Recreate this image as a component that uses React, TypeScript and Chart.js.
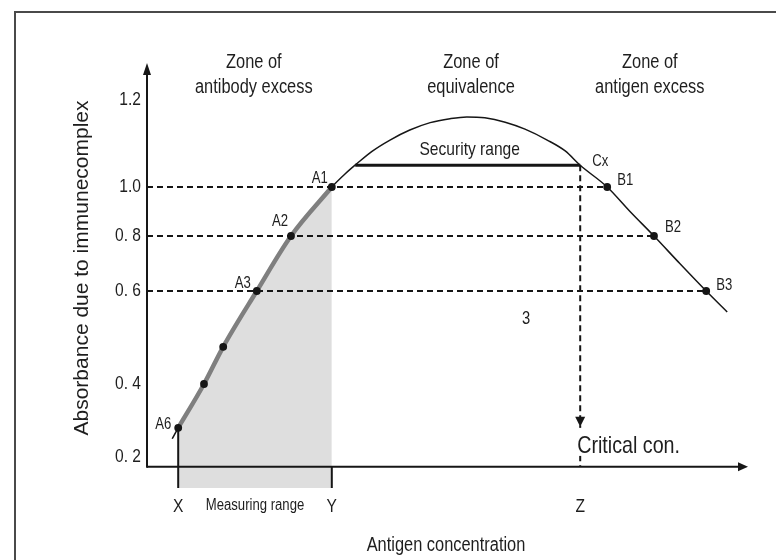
import React, { useEffect, useRef } from "react";
import { Chart, registerables, LinearScale } from "chart.js";

// ---------------- data ----------------
// y axis (absorbance) tick values and their printed labels
const yTickValues = [0.2, 0.4, 0.6, 0.8, 1.0, 1.2];
const yTickLabels = ["0. 2", "0. 4", "0. 6", "0. 8", "1.0", "1.2"];

// Calibration curve: antigen concentration (arbitrary units) vs absorbance
const curveX = [0.42, 0.52, 0.95, 1.27, 1.83, 2.4, 3.08, 3.3, 3.5, 3.75, 4.05, 4.38, 4.72, 5.05, 5.33, 5.63, 5.97, 6.3, 6.67, 6.97, 7.22, 7.67, 8.05, 8.45, 8.88, 9.32, 9.67];
const curveY = [0.25, 0.28, 0.4, 0.48, 0.6, 0.8, 1.0, 1.03, 1.054, 1.082, 1.108, 1.131, 1.148, 1.157, 1.161, 1.159, 1.149, 1.133, 1.108, 1.083, 1.05, 1.0, 0.9, 0.8, 0.7, 0.6, 0.555];

// Marked measuring points
const markNames = ["A6", "", "", "A3", "A2", "A1", "B1", "B2", "B3"];
const markX = [0.52, 0.95, 1.27, 1.83, 2.4, 3.08, 7.67, 8.45, 9.32];
const markY = [0.28, 0.4, 0.48, 0.6, 0.8, 1.0, 1.0, 0.8, 0.6];

// Measuring range X..Y, critical concentration Z, security range
const measureRange = [0.52, 3.08];
const criticalX = 7.22;
const securityX = [3.47, 7.22];
const securityY = 1.05;
const yAxisOrigin = 0.173; // absorbance where the concentration axis crosses

const zoneTitles = [
  ["Zone of", "antibody excess"],
  ["Zone of", "equivalence"],
  ["Zone of", "antigen excess"],
];
const zoneCenters = [1.78, 5.4, 8.38];
const regionNote = { text: "3", x: 6.32, y: 0.54 };

// ---------------- scale config (as drawn: tick spacing is uneven) ----------------
const yStopFractions = [0.0729, 0.2447, 0.4635, 0.5929, 0.7082, 0.9129];

function valueToFraction(v: number): number {
  const s = yTickValues, f = yStopFractions;
  let i = 0;
  if (v <= s[0]) i = 0;
  else if (v >= s[s.length - 1]) i = s.length - 2;
  else { while (i < s.length - 2 && v > s[i + 1]) i++; }
  return f[i] + ((v - s[i]) / (s[i + 1] - s[i])) * (f[i + 1] - f[i]);
}
function fractionToValue(d: number): number {
  const s = yTickValues, f = yStopFractions;
  let i = 0;
  if (d <= f[0]) i = 0;
  else if (d >= f[f.length - 1]) i = f.length - 2;
  else { while (i < f.length - 2 && d > f[i + 1]) i++; }
  return s[i] + ((d - f[i]) / (f[i + 1] - f[i])) * (s[i + 1] - s[i]);
}

class PiecewiseScale extends LinearScale {
  static id = "piecewise";
  static defaults = {};
  getPixelForValue(value: any) {
    if (value === null || value === undefined || isNaN(value)) return NaN;
    return this.getPixelForDecimal(valueToFraction(+value));
  }
  getValueForPixel(pixel: number) {
    return fractionToValue(this.getDecimalForPixel(pixel));
  }
}

Chart.register(...registerables, PiecewiseScale as any);

const SANS = "'Liberation Sans', Arial, sans-serif";
const INK = "#161616";
const NARROW_FACTOR = 0.82;

// label offsets (style)
const markLabelOffsets: [number, number][] = [
  [-15, -3], [0, 0], [0, 0], [-14, -7], [-11, -14], [-12, -8], [18, -6], [19, -8], [18, -5],
];

const diagramPlugin = {
  id: "diagram",
  afterDraw(chart: any) {
    const { ctx, chartArea, scales } = chart;
    const xs = scales.x, ys = scales.y;
    const axisY = ys.getPixelForValue(yAxisOrigin);
    const left = chartArea.left;
    ctx.save();

    const text = (
      s: string, x: number, y: number, size: number,
      align: CanvasTextAlign = "center", baseline: CanvasTextBaseline = "alphabetic",
      sx = NARROW_FACTOR,
    ) => {
      ctx.save();
      ctx.translate(x, y);
      ctx.scale(sx, 1);
      ctx.font = `${size}px ${SANS}`;
      ctx.textAlign = align;
      ctx.textBaseline = baseline;
      ctx.fillStyle = "#1e1e1e";
      ctx.fillText(s, 0, 0);
      ctx.restore();
    };

    // frame
    ctx.strokeStyle = "#4a4a4a";
    ctx.lineWidth = 2;
    ctx.beginPath();
    ctx.moveTo(15, chart.height);
    ctx.lineTo(15, 12);
    ctx.lineTo(chart.width, 12);
    ctx.stroke();

    // axes
    ctx.strokeStyle = INK;
    ctx.fillStyle = INK;
    ctx.lineWidth = 2;
    ctx.beginPath();
    ctx.moveTo(left, axisY + 1);
    ctx.lineTo(left, chartArea.top + 8);
    ctx.stroke();
    ctx.beginPath();
    ctx.moveTo(left, chartArea.top);
    ctx.lineTo(left - 4, chartArea.top + 12);
    ctx.lineTo(left + 4, chartArea.top + 12);
    ctx.closePath();
    ctx.fill();

    const tipX = chartArea.right + 1;
    ctx.beginPath();
    ctx.moveTo(left, axisY);
    ctx.lineTo(tipX - 8, axisY);
    ctx.stroke();
    ctx.beginPath();
    ctx.moveTo(tipX, axisY);
    ctx.lineTo(tipX - 10, axisY - 4.5);
    ctx.lineTo(tipX - 10, axisY + 4.5);
    ctx.closePath();
    ctx.fill();

    // y tick labels
    yTickValues.forEach((v, i) => {
      text(yTickLabels[i], left - 6, ys.getPixelForValue(v), 19, "right", "middle");
    });

    // measuring range boundaries
    const pX = xs.getPixelForValue(measureRange[0]);
    const pY = xs.getPixelForValue(measureRange[1]);
    ctx.strokeStyle = INK;
    ctx.beginPath();
    ctx.moveTo(pX, ys.getPixelForValue(markY[0]));
    ctx.lineTo(pX, chartArea.bottom);
    ctx.moveTo(pY, axisY);
    ctx.lineTo(pY, chartArea.bottom);
    ctx.stroke();

    // critical concentration arrow + label
    const pZ = xs.getPixelForValue(criticalX);
    ctx.fillStyle = "#ffffff";
    ctx.fillRect(pZ - 4, axisY - 39, 110, 28);
    ctx.fillStyle = INK;
    ctx.beginPath();
    ctx.moveTo(pZ, axisY - 40);
    ctx.lineTo(pZ - 5, axisY - 50);
    ctx.lineTo(pZ + 5, axisY - 50);
    ctx.closePath();
    ctx.fill();
    text("Critical con.", pZ - 3, axisY - 14, 24, "left");

    // zone titles
    zoneTitles.forEach((lines, i) => {
      const cx = xs.getPixelForValue(zoneCenters[i]);
      text(lines[0], cx, chartArea.top + 5, 20);
      text(lines[1], cx, chartArea.top + 30, 20);
    });

    // security range label
    const sMid = xs.getPixelForValue((securityX[0] + securityX[1]) / 2);
    const sPx = ys.getPixelForValue(securityY);
    text("Security range", sMid + 2, sPx - 10, 19);
    text("Cx", xs.getPixelForValue(securityX[1]) + 20, sPx - 4, 16, "center", "middle");

    // point labels
    markNames.forEach((n, i) => {
      if (!n) return;
      const [dx, dy] = markLabelOffsets[i];
      text(n, xs.getPixelForValue(markX[i]) + dx, ys.getPixelForValue(markY[i]) + dy, 16, "center", "middle");
    });

    text(regionNote.text, xs.getPixelForValue(regionNote.x), ys.getPixelForValue(regionNote.y), 18, "center", "middle");

    // X, Y, Z
    text("X", pX, axisY + 45, 19);
    text("Y", pY, axisY + 45, 19);
    text("Z", pZ, axisY + 45, 19);
    text("Measuring range", (pX + pY) / 2, axisY + 43, 16);

    // axis titles
    text("Antigen concentration", (chartArea.left + chartArea.right) / 2 - 1, 551, 20);
    ctx.save();
    ctx.translate(82, 268);
    ctx.rotate(-Math.PI / 2);
    text("Absorbance due to immunecomplex", 0, 0, 21, "center", "middle", 1);
    ctx.restore();

    ctx.restore();
  },
};

export default function App() {
  const ref = useRef<HTMLCanvasElement | null>(null);

  useEffect(() => {
    document.body.style.margin = "0";
    const canvas = ref.current;
    if (!canvas) return;

    const pts = (xs: number[], ys: number[]) => xs.map((x, i) => ({ x, y: ys[i] }));
    const curve = pts(curveX, curveY);
    const measured = curve.filter((p) => p.x >= measureRange[0] - 1e-9 && p.x <= measureRange[1] + 1e-9);
    const dashed = { borderColor: INK, borderWidth: 2, borderDash: [6, 4], pointRadius: 0, tension: 0, fill: false, order: 6 };

    const levelLines = [6, 7, 8].map((i) => ({
      ...dashed,
      data: [{ x: 0, y: markY[i] }, { x: markX[i], y: markY[i] }],
    }));

    const chart = new Chart(canvas, {
      type: "line",
      data: {
        datasets: [
          {
            data: measured,
            borderWidth: 0,
            borderColor: "rgba(0,0,0,0)",
            backgroundColor: "#dedede",
            fill: "start",
            pointRadius: 0,
            cubicInterpolationMode: "monotone",
            order: 10,
          } as any,
          ...levelLines,
          { ...dashed, data: [{ x: criticalX, y: securityY }, { x: criticalX, y: yAxisOrigin }] },
          {
            data: [{ x: securityX[0], y: securityY }, { x: securityX[1], y: securityY }],
            borderColor: INK,
            borderWidth: 3,
            pointRadius: 0,
            fill: false,
            order: 4,
          },
          {
            data: curve,
            borderColor: INK,
            borderWidth: 1.5,
            pointRadius: 0,
            cubicInterpolationMode: "monotone",
            fill: false,
            order: 3,
          },
          {
            data: measured,
            borderColor: "#7f7f7f",
            borderWidth: 4.5,
            pointRadius: 0,
            cubicInterpolationMode: "monotone",
            fill: false,
            order: 2,
            borderCapStyle: "round",
          },
          {
            data: pts(markX, markY),
            showLine: false,
            pointRadius: 3.9,
            pointBackgroundColor: INK,
            pointBorderWidth: 0,
            pointBorderColor: INK,
            order: 1,
          },
        ],
      },
      options: {
        animation: false,
        responsive: false,
        devicePixelRatio: 1,
        events: [],
        layout: { padding: { left: 147, top: 63, right: 29, bottom: 72 } },
        plugins: { legend: { display: false }, tooltip: { enabled: false } },
        scales: {
          x: { type: "linear", min: 0, max: 10, display: false },
          y: { type: "piecewise" as any, min: 0.1, max: 1.3, display: false } as any,
        },
      },
      plugins: [diagramPlugin],
    } as any);

    return () => chart.destroy();
  }, []);

  return (
    <div style={{ width: 776, height: 560 }}>
      <canvas ref={ref} width={776} height={560} style={{ display: "block" }} />
    </div>
  );
}
